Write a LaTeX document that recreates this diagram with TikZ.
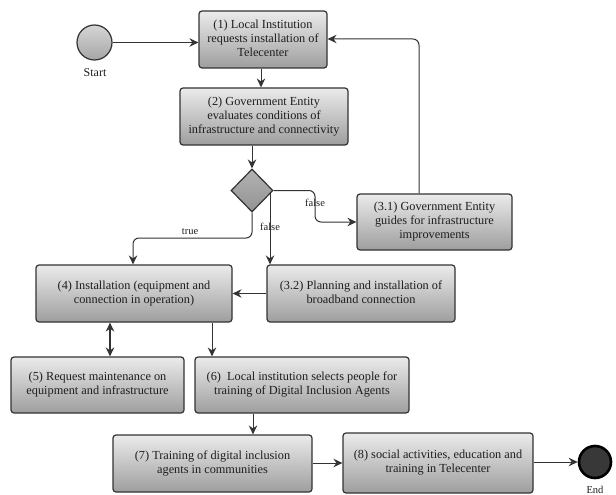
\documentclass[tikz,border=0pt]{standalone}
\usepackage{fontspec}
\setmainfont{Liberation Serif}
\usetikzlibrary{arrows.meta,shapes.geometric,calc}
\definecolor{edge}{HTML}{333333}
\definecolor{txt}{HTML}{1E1E1E}
\definecolor{boxtop}{HTML}{EBEBEB}
\definecolor{boxbot}{HTML}{9E9E9E}
\tikzset{
  act/.style={draw=edge, line width=1.2pt, rounded corners=3pt, top color=boxtop, bottom color=boxbot,
    align=center, text=txt, font=\fontsize{12.3}{14.2}\selectfont, inner sep=0pt},
  flow/.style={draw=edge, line width=1pt, -{Stealth[length=9pt,width=8.5pt,inset=3pt]}, color=edge},
  lbl/.style={text=txt, font=\fontsize{10.5}{12}\selectfont, inner sep=1pt},
}
\begin{document}
\begin{tikzpicture}[x=1pt,y=-1pt]
\useasboundingbox (0,0) rectangle (616,495);
% start / end
\node (start) [circle, draw=edge, line width=1.2pt, top color=boxtop!80!gray, bottom color=gray!70, minimum size=35pt, inner sep=0pt] at (94.5,42.5) {};
\node (startl) [lbl, font=\fontsize{12}{13}\selectfont] at (95,73) {Start};
\node (end) [circle, draw=black, line width=2.6pt, fill=black!78, minimum size=32pt, inner sep=0pt] at (595,462) {};
\node (endl) [lbl, font=\fontsize{10.5}{11}\selectfont] at (595,489.5) {End};
% activities
\node (b1) [act, minimum width=128pt, minimum height=57pt] at (263,39.5) {(1) Local Institution\\requests installation of\\Telecenter\rule[-3pt]{0pt}{0pt}};
\node (b2) [act, minimum width=168pt, minimum height=57pt] at (264,116.5) {(2) Government Entity\\evaluates conditions of\\infrastructure and connectivity\rule[-3pt]{0pt}{0pt}};
\node (d) [diamond, draw=edge, line width=1.2pt, top color=gray!60, bottom color=gray!85, minimum width=42pt, minimum height=43pt, inner sep=0pt] at (252,190.5) {};
\node (b31) [act, minimum width=155pt, minimum height=56pt] at (434.5,222) {(3.1) Government Entity\\guides for infrastructure\\improvements\rule[-3pt]{0pt}{0pt}};
\node (b32) [act, minimum width=188pt, minimum height=57pt] at (361,293.5) {(3.2) Planning and installation of\\broadband connection\rule[-3pt]{0pt}{0pt}};
\node (b4) [act, minimum width=196pt, minimum height=57pt] at (134,293.5) {(4) Installation (equipment and\\connection in operation)\rule[-3pt]{0pt}{0pt}};
\node (b5) [act, minimum width=173pt, minimum height=56pt] at (97.5,385) {(5) Request maintenance on\\equipment and infrastructure\rule[-3pt]{0pt}{0pt}};
\node (b6) [act, minimum width=214pt, minimum height=56pt] at (302,385) {(6)\ \ Local institution selects people for\\training of Digital Inclusion Agents\rule[-3pt]{0pt}{0pt}};
\node (b7) [act, minimum width=199pt, minimum height=57pt] at (212.5,463.5) {(7) Training of digital inclusion\\agents in communities\rule[-3pt]{0pt}{0pt}};
\node (b8) [act, minimum width=190pt, minimum height=60pt] at (438,463) {(8) social activities, education and\\training in Telecenter\rule[-3pt]{0pt}{0pt}};
% connectors
\draw[flow] (start.east) -- (start.east -| b1.west);
\draw[flow] (b1.south -| 261,0) -- (b2.north -| 261,0);
\draw[flow] (b2.south -| d.north) -- (d.north);
\coordinate (r1) at (315,0);
\draw[flow, rounded corners=6pt] (d.east) -- (d.east -| r1) -- (r1 |- b31.west) -- (b31.west);
\node (f1) [lbl] at (315,203) {false};
\coordinate (fx) at (270,193);
\draw[flow] (fx) -- (fx |- b32.north);
\node (f2) [lbl] at (270,227) {false};
\coordinate (ty) at (0,238);
\coordinate (tx) at (133,0);
\draw[flow, rounded corners=6pt] (d.south) -- (d.south |- ty) -- (tx |- ty) -- (tx |- b4.north);
\node (t1) [lbl] at (190,232) {true};
\coordinate (rx) at (419,0);
\draw[flow, rounded corners=6pt] (b31.north -| rx) -- (rx |- 0,39) -- (b1.east |- 0,39);
\draw[flow] (b32.west) -- (b4.east);
\coordinate (dx) at (110,0);
\draw[flow, {Stealth[length=9pt,width=8.5pt,inset=3pt]}-{Stealth[length=9pt,width=8.5pt,inset=3pt]}, line width=1.4pt] (b4.south -| dx) -- (b5.north -| dx);
\coordinate (sx) at (212,0);
\draw[flow] (b4.south -| sx) -- (b6.north -| sx);
\coordinate (ex) at (253,0);
\draw[flow] (b6.south -| ex) -- (b7.north -| ex);
\draw[flow] (b7.east |- 0,463) -- (b8.west |- 0,463);
\draw[flow] (b8.east |- end.west) -- (end.west);
\end{tikzpicture}
\end{document}
